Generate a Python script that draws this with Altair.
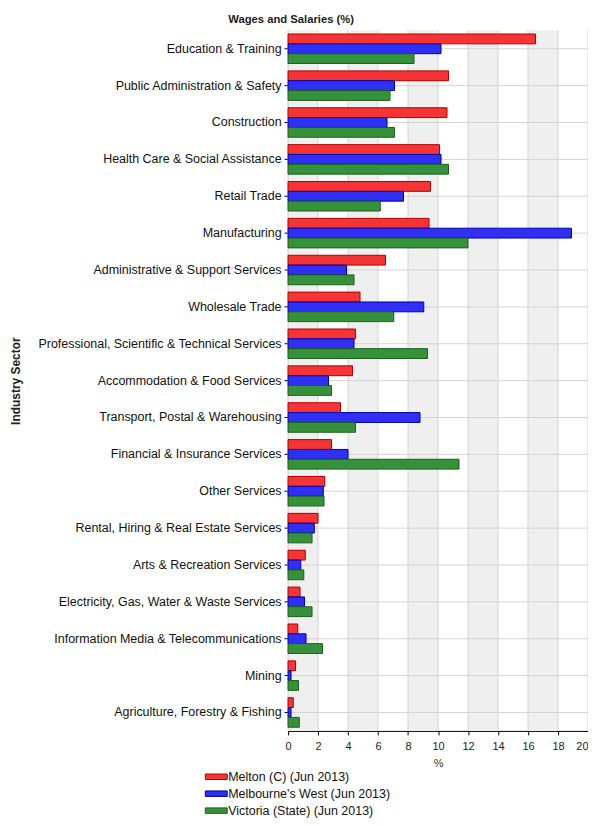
import altair as alt
import pandas as pd

sectors = [
    "Education & Training",
    "Public Administration & Safety",
    "Construction",
    "Health Care & Social Assistance",
    "Retail Trade",
    "Manufacturing",
    "Administrative & Support Services",
    "Wholesale Trade",
    "Professional, Scientific & Technical Services",
    "Accommodation & Food Services",
    "Transport, Postal & Warehousing",
    "Financial & Insurance Services",
    "Other Services",
    "Rental, Hiring & Real Estate Services",
    "Arts & Recreation Services",
    "Electricity, Gas, Water & Waste Services",
    "Information Media & Telecommunications",
    "Mining",
    "Agriculture, Forestry & Fishing",
]
series = ["Melton (C) (Jun 2013)", "Melbourne's West (Jun 2013)", "Victoria (State) (Jun 2013)"]
melton = [16.5, 10.7, 10.6, 10.1, 9.5, 9.4, 6.5, 4.8, 4.5, 4.3, 3.5, 2.9, 2.45, 2.0, 1.15, 0.8, 0.65, 0.5, 0.35]
west = [10.2, 7.1, 6.6, 10.2, 7.7, 18.9, 3.9, 9.05, 4.4, 2.7, 8.8, 4.0, 2.35, 1.75, 0.85, 1.1, 1.2, 0.2, 0.2]
vic = [8.4, 6.8, 7.1, 10.7, 6.15, 12.0, 4.4, 7.05, 9.3, 2.9, 4.5, 11.4, 2.4, 1.6, 1.05, 1.6, 2.3, 0.7, 0.75]
x_ticks = list(range(0, 21, 2))

fills = ["#f53535", "#2f2ff5", "#35923a"]
strokes = ["#b00000", "#0000a8", "#1d5e1d"]

rows = []
for i, s in enumerate(sectors):
    for name, vals in zip(series, [melton, west, vic]):
        rows.append({"sector": s, "series": name, "value": vals[i]})
df = pd.DataFrame(rows)
bands = pd.DataFrame({"x0": x_ticks[0:-1:2], "x1": x_ticks[1::2]})
ticks_df = pd.DataFrame({"t": x_ticks})
sect_df = pd.DataFrame({"sector": sectors})

W, H = 301, 703
FONT = "Liberation Sans"
xs = alt.Scale(domain=[0, 20], nice=False)
ys = alt.Scale(paddingInner=0.2, paddingOuter=0.1)

x_axis = alt.Axis(
    values=x_ticks, title="%", grid=False, labelFontSize=11, labelFont=FONT,
    labelColor="#222", titleFont=FONT, titleFontSize=11, titleFontWeight="normal",
    titleColor="#333", titlePadding=6, domainColor="black", tickColor="black",
    tickSize=4, labelPadding=6,
    labelAlign={"condition": {"test": f"datum.value == {x_ticks[-1]}", "value": "right"},
                "value": "center"})
y_axis = alt.Axis(
    title="Industry Sector", labelFontSize=12.5, labelFont=FONT, labelColor="#111",
    titleFont=FONT, titleFontSize=12, titleFontWeight="bold", titleColor="#222",
    domainColor="black", tickColor="black", tickSize=4, labelPadding=3,
    labelLimit=400, grid=False, titleX=-266)

band_layer = alt.Chart(bands).mark_rect(color="#efefef").encode(
    x=alt.X("x0:Q", scale=xs, axis=x_axis, title="%"),
    x2="x1:Q",
    y=alt.value(0),
    y2=alt.value(H),
)

vgrid = alt.Chart(ticks_df).mark_rule(color="#d4d4d4", strokeWidth=1).encode(
    x=alt.X("t:Q", scale=xs, axis=x_axis, title="%"),
    y=alt.value(0),
    y2=alt.value(H),
)

hgrid = alt.Chart(sect_df).mark_rule(color="#d4d4d4", strokeWidth=1).encode(
    y=alt.Y("sector:N", sort=sectors, scale=ys, axis=y_axis, title="Industry Sector"),
    x=alt.value(0),
    x2=alt.value(W),
)

bars = alt.Chart(df).mark_bar(strokeWidth=1, fillOpacity=1).encode(
    x=alt.X("value:Q", scale=xs, axis=x_axis, title="%"),
    y=alt.Y("sector:N", sort=sectors, scale=ys, axis=y_axis, title="Industry Sector"),
    yOffset=alt.YOffset("series:N", sort=series),
    fill=alt.Fill("series:N", sort=series, scale=alt.Scale(domain=series, range=fills),
                  legend=alt.Legend(title=None)),
    stroke=alt.Stroke("series:N", sort=series, scale=alt.Scale(domain=series, range=strokes),
                      legend=alt.Legend(title=None)),
)

chart = alt.layer(band_layer, vgrid, hgrid, bars).properties(
    width=W,
    height=H,
    title=alt.TitleParams("Wages and Salaries (%)", anchor="start", frame="group", dx=-60,
                          fontSize=11.3, font=FONT, fontWeight="bold", color="#222", offset=5),
    autosize=alt.AutoSizeParams(type="none"),
    padding={"left": 281, "top": 21, "right": 0, "bottom": 90},
).configure_view(stroke=None).configure_legend(
    orient="none", legendX=-82, legendY=739,
    symbolType="M-1.158,-0.289H1.158V0.289H-1.158Z", symbolSize=361, symbolStrokeWidth=1,
    labelFont=FONT, labelFontSize=12.5, labelColor="#111", rowPadding=0, labelOffset=2,
    labelLimit=300, symbolOpacity=1,
)

chart.save("out.html", embed_options={"renderer": "svg", "actions": False})
